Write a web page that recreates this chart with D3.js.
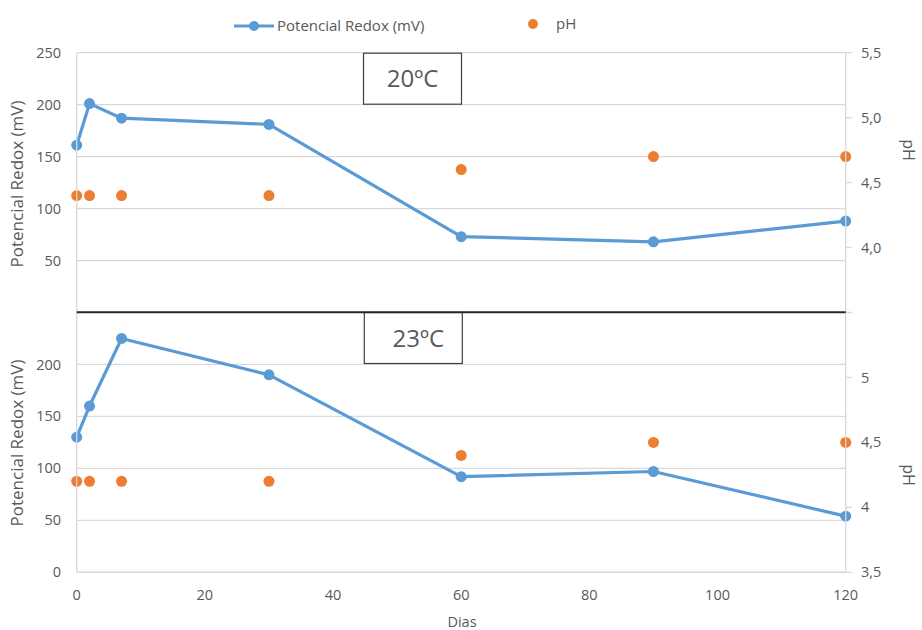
<!DOCTYPE html>
<html>
<head>
<meta charset="utf-8">
<script src="https://cdn.jsdelivr.net/npm/d3@7/dist/d3.min.js"></script>
<style>
  html, body { margin: 0; padding: 0; background: #fff; }
  svg { display: block; }
  text { font-family: "Open Sans", "Noto Sans", sans-serif; fill: #595959; }
</style>
</head>
<body>
<svg id="chart" width="922" height="630"></svg>
<script>
// Sampling days
const dias = [0, 2, 7, 30, 60, 90, 120];

// 20 ºC series
const redox20 = [161, 201, 187, 181, 73, 68, 88];
const ph20 = [4.4, 4.4, 4.4, 4.4, 4.6, 4.7, 4.7];

// 23 ºC series
const redox23 = [130, 160, 225, 190, 92, 97, 54];
const ph23 = [4.2, 4.2, 4.2, 4.2, 4.4, 4.5, 4.5];

// Tick labels
const xTicks = [0, 20, 40, 60, 80, 100, 120];
const redoxTicksTop = [50, 100, 150, 200, 250];
const redoxTicksBottom = [0, 50, 100, 150, 200];
const phTicksTop = [4.0, 4.5, 5.0, 5.5];
const phTicksBottom = [3.5, 4.0, 4.5, 5.0];

const panels = [
  { label: "20ºC", redox: redox20, ph: ph20, top: 52.7, bottom: 312.5,
    redoxTicks: redoxTicksTop, phTicks: phTicksTop, phFmt: d => d3.format(".1f")(d).replace(".", ","),
    titleY: 184, phTitleY: 150 },
  { label: "23ºC", redox: redox23, ph: ph23, top: 312.5, bottom: 572.3,
    redoxTicks: redoxTicksBottom, phTicks: phTicksBottom, phFmt: d => String(d).replace(".", ","),
    titleY: 443, phTitleY: 475 }
];

const blue = "#5b9bd5", orange = "#ed7d31", grid = "#d9d9d9";
const svg = d3.select("#chart");
const x = d3.scaleLinear().domain([0, 120]).range([76.7, 845.7]);

panels.forEach((p, i) => {
  const yL = d3.scaleLinear().domain([0, 250]).range([p.bottom, p.top]);
  const yR = d3.scaleLinear().domain([3.5, 5.5]).range([p.bottom, p.top]);
  const g = svg.append("g");

  // horizontal gridlines from the redox axis
  g.selectAll("line.grid").data(p.redoxTicks).join("line")
    .attr("x1", x(0)).attr("x2", x(120))
    .attr("y1", d => yL(d)).attr("y2", d => yL(d))
    .attr("stroke", grid).attr("stroke-width", 1.3);

  // left tick labels
  g.selectAll("text.yl").data(p.redoxTicks).join("text")
    .attr("x", 61).attr("y", d => yL(d)).attr("dy", "0.35em")
    .attr("text-anchor", "end").attr("font-size", 14.5).text(d => d);

  // right axis tick marks and labels
  const rTickVals = d3.range(3.5, 5.51, 0.5);
  g.selectAll("line.rt").data(rTickVals).join("line")
    .attr("x1", x(120)).attr("x2", x(120) + 6)
    .attr("y1", d => yR(d)).attr("y2", d => yR(d))
    .attr("stroke", grid).attr("stroke-width", 1.3);
  g.selectAll("text.yr").data(p.phTicks).join("text")
    .attr("x", 861).attr("y", d => yR(d)).attr("dy", "0.35em")
    .attr("text-anchor", "start").attr("font-size", 14.5).text(p.phFmt);

  // axis titles
  svg.append("text")
    .attr("transform", `translate(23,${p.titleY}) rotate(-90)`)
    .attr("text-anchor", "middle").attr("font-size", 17)
    .text("Potencial Redox (mV)");
  svg.append("text")
    .attr("transform", `translate(903,${p.phTitleY}) rotate(90)`)
    .attr("text-anchor", "middle").attr("font-size", 16)
    .text("pH");

  // temperature label box
  const bx = 363.5 + i * 0.8, bw = 98;
  g.append("rect").attr("x", bx).attr("y", p.top + (i ? 0 : 0.5))
    .attr("width", bw).attr("height", 51)
    .attr("fill", "#fff").attr("stroke", "#404040").attr("stroke-width", 1.2);
  g.append("text").attr("x", bx + bw / 2 + (i ? 5 : 0)).attr("y", p.top + 26)
    .attr("dy", "0.35em").attr("text-anchor", "middle")
    .attr("font-size", 24).text(p.label);

  // pH points
  g.selectAll("circle.ph").data(dias).join("circle")
    .attr("cx", d => x(d)).attr("cy", (d, k) => yR(p.ph[k]))
    .attr("r", 5.5).attr("fill", orange);

  // redox line with markers
  const line = d3.line().x(d => x(d)).y((d, k) => yL(p.redox[k]));
  g.append("path").datum(dias).attr("d", line)
    .attr("fill", "none").attr("stroke", blue).attr("stroke-width", 3.2)
    .attr("stroke-linejoin", "round");
  g.selectAll("circle.rx").data(dias).join("circle")
    .attr("cx", d => x(d)).attr("cy", (d, k) => yL(p.redox[k]))
    .attr("r", 5.5).attr("fill", blue);
});

// outer vertical axes spanning both panels
[x(0), x(120)].forEach(xx => {
  svg.append("line").attr("x1", xx).attr("x2", xx)
    .attr("y1", 52.7).attr("y2", 572.3)
    .attr("stroke", grid).attr("stroke-width", 1.3);
});
// bottom x axis line
svg.append("line").attr("x1", x(0)).attr("x2", x(120))
  .attr("y1", 572.3).attr("y2", 572.3).attr("stroke", grid).attr("stroke-width", 1.5);

// divider between the two panels
svg.append("line").attr("x1", x(0)).attr("x2", x(120))
  .attr("y1", 312.3).attr("y2", 312.3).attr("stroke", "#262626").attr("stroke-width", 2);

// x tick labels and title
svg.selectAll("text.xt").data(xTicks).join("text")
  .attr("x", d => x(d)).attr("y", 595).attr("dy", "0.35em")
  .attr("text-anchor", "middle").attr("font-size", 14.5).text(d => d);
svg.append("text").attr("x", 462).attr("y", 622).attr("dy", "0.35em")
  .attr("text-anchor", "middle").attr("font-size", 14.5).text("Dias");

// legend
const lg = svg.append("g");
lg.append("line").attr("x1", 234).attr("x2", 274).attr("y1", 26).attr("y2", 26)
  .attr("stroke", blue).attr("stroke-width", 3.2);
lg.append("circle").attr("cx", 254).attr("cy", 26).attr("r", 5).attr("fill", blue);
lg.append("text").attr("x", 277).attr("y", 26).attr("dy", "0.35em")
  .attr("font-size", 15).text("Potencial Redox (mV)");
lg.append("circle").attr("cx", 533).attr("cy", 24).attr("r", 5).attr("fill", orange);
lg.append("text").attr("x", 556).attr("y", 24).attr("dy", "0.35em")
  .attr("font-size", 15).text("pH");
</script>
</body>
</html>
